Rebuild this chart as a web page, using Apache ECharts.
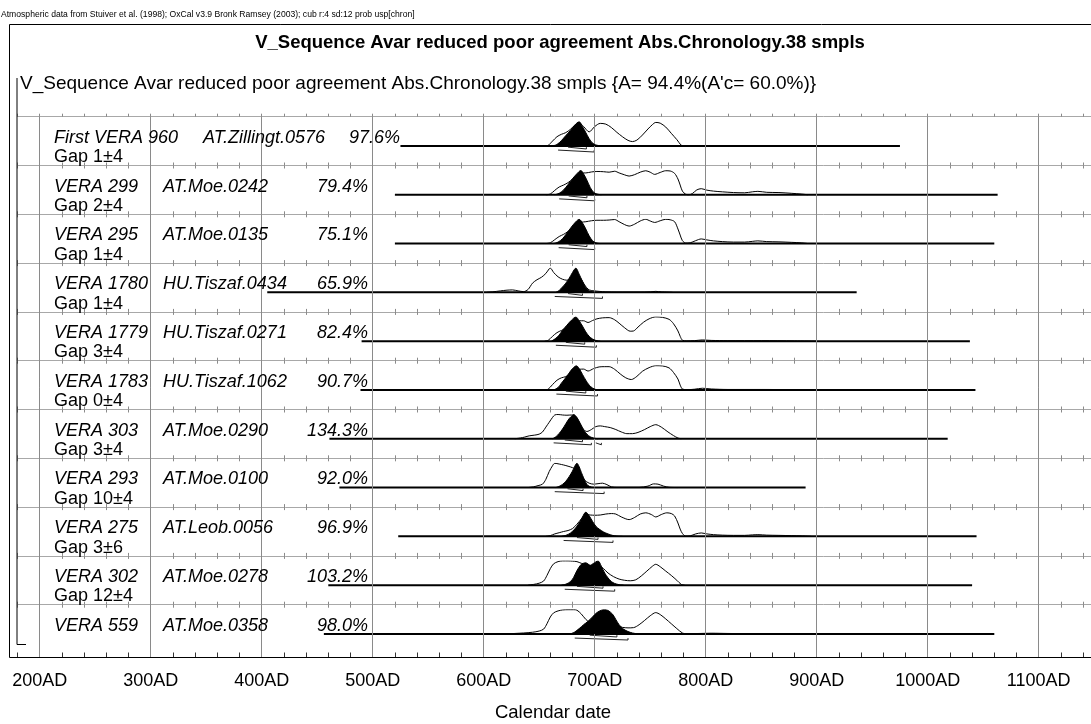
<!DOCTYPE html>
<html>
<head>
<meta charset="utf-8">
<script src="https://cdn.jsdelivr.net/npm/echarts@6/dist/echarts.min.js"></script>
<style>
  html, body { margin: 0; padding: 0; background: #fff; }
  #chart { width: 1091px; height: 724px; }
</style>
</head>
<body>
<div id="chart"></div>
<script>
// ---- Sample labels ----
const sampleNames = ['First VERA 960', 'VERA 299', 'VERA 295', 'VERA 1780', 'VERA 1779', 'VERA 1783',
  'VERA 303', 'VERA 293', 'VERA 275', 'VERA 302', 'VERA 559'];
const labCodes = ['AT.Zillingt.0576', 'AT.Moe.0242', 'AT.Moe.0135', 'HU.Tiszaf.0434', 'HU.Tiszaf.0271',
  'HU.Tiszaf.1062', 'AT.Moe.0290', 'AT.Moe.0100', 'AT.Leob.0056', 'AT.Moe.0278', 'AT.Moe.0358'];
const agreement = [97.6, 79.4, 75.1, 65.9, 82.4, 90.7, 134.3, 92.0, 96.9, 103.2, 98.0];
const gaps = ['Gap 1±4', 'Gap 2±4', 'Gap 1±4', 'Gap 1±4', 'Gap 3±4', 'Gap 0±4', 'Gap 3±4',
  'Gap 10±4', 'Gap 3±6', 'Gap 12±4', ''];

// ---- Calculation range of each distribution (calendar years AD) ----
const rangeStart = [525, 520, 520, 405, 490, 489, 461, 470, 523, 460, 456];
const rangeEnd   = [975, 1063, 1060, 936, 1038, 1043, 1018, 890, 1044, 1040, 1060];

// ---- Unmodelled likelihoods (outline), [year AD, relative probability] ----
const lik0 = [[655,0],[658,0.02],[662,0.2],[666,0.38],[670,0.48],[674,0.55],[678,0.68],[682,0.85],[686,0.95],[690,0.8],[695,0.58],[700,0.8],[705,0.93],[710,0.9],[715,0.76],[720,0.56],[725,0.38],[730,0.23],[734,0.18],[738,0.24],[743,0.45],[748,0.7],[752,0.88],[755,0.97],[759,0.94],[764,0.78],[769,0.52],[774,0.26],[778,0.03],[781,0]];
const lik1 = [[656,0],[660,0.03],[664,0.18],[668,0.32],[672,0.4],[676,0.5],[680,0.65],[684,0.82],[688,0.9],[692,0.9],[697,0.94],[702,0.96],[708,0.95],[713,0.93],[718,0.97],[722,0.9],[727,0.82],[731,0.77],[736,0.83],[741,0.93],[746,0.99],[750,0.93],[754,0.84],[759,0.92],[764,0.99],[768,0.98],[772,0.88],[775,0.65],[777,0.4],[779,0.15],[782,0.02],[785,0],[788,0.05],[792,0.2],[796,0.25],[801,0.19],[807,0.15],[815,0.12],[825,0.09],[835,0.08],[842,0.12],[847,0.14],[855,0.1],[866,0.09],[877,0.06],[886,0.03],[892,0]];
const lik2 = [[656,0],[660,0.03],[664,0.16],[668,0.29],[672,0.38],[676,0.5],[680,0.66],[684,0.82],[688,0.88],[692,0.9],[697,0.94],[702,0.96],[708,0.96],[713,0.97],[718,0.99],[722,0.9],[727,0.78],[731,0.72],[736,0.8],[741,0.93],[746,1.0],[750,0.93],[754,0.87],[759,0.94],[764,1.0],[768,0.98],[772,0.9],[775,0.6],[777,0.35],[779,0.12],[782,0.02],[786,0.03],[791,0.12],[796,0.19],[801,0.15],[807,0.11],[815,0.08],[825,0.06],[835,0.06],[842,0.09],[847,0.11],[855,0.08],[866,0.07],[877,0.05],[886,0.03],[892,0]];
const lik3 = [[603,0],[608,0.02],[615,0.06],[621,0.09],[626,0.1],[631,0.06],[636,0.03],[640,0.12],[644,0.38],[648,0.52],[652,0.62],[656,0.78],[659,0.97],[660,1.0],[663,0.82],[667,0.64],[671,0.54],[675,0.5],[679,0.6],[683,0.7],[687,0.6],[691,0.3],[695,0.1],[700,0.06],[704,0.04],[710,0.02],[720,0.01],[740,0.01],[750,0.02],[755,0.04],[760,0.02],[770,0]];
const lik4 = [[655,0],[658,0.03],[662,0.2],[666,0.35],[670,0.44],[674,0.52],[678,0.65],[682,0.78],[686,0.84],[690,0.84],[694,0.77],[698,0.85],[702,0.92],[707,0.96],[713,0.97],[718,0.88],[722,0.74],[727,0.55],[732,0.41],[735,0.42],[739,0.58],[744,0.78],[749,0.92],[755,1.0],[761,0.98],[767,0.9],[771,0.72],[775,0.42],[777,0.2],[779,0.04],[783,0.01],[790,0.02],[797,0.05],[805,0.03],[820,0.02],[850,0.02],[880,0.01],[900,0]];
const lik5 = [[655,0],[658,0.03],[662,0.22],[666,0.4],[670,0.5],[674,0.55],[678,0.66],[682,0.8],[686,0.85],[690,0.86],[694,0.78],[699,0.88],[704,0.95],[709,0.96],[713,0.96],[718,0.85],[723,0.66],[728,0.5],[733,0.43],[738,0.56],[743,0.77],[749,0.92],[755,1.0],[761,0.99],[767,0.91],[771,0.72],[775,0.45],[777,0.2],[779,0.04],[783,0.01],[790,0.03],[797,0.07],[805,0.04],[820,0.02],[850,0.02],[880,0.01],[900,0]];
const lik6 = [[628,0],[633,0.03],[637,0.07],[641,0.12],[646,0.15],[650,0.19],[653,0.28],[656,0.48],[659,0.68],[662,0.88],[664,0.98],[667,1.0],[671,0.98],[675,0.97],[679,0.98],[682,0.95],[686,0.7],[690,0.38],[693,0.3],[697,0.38],[701,0.5],[705,0.53],[709,0.5],[714,0.46],[719,0.38],[724,0.28],[729,0.21],[734,0.21],[739,0.26],[745,0.38],[750,0.5],[755,0.58],[760,0.48],[766,0.28],[771,0.13],[775,0.03],[778,0]];
const lik7 = [[640,0],[645,0.03],[649,0.08],[653,0.14],[656,0.34],[659,0.66],[662,0.9],[664,1.0],[668,0.97],[672,0.93],[676,0.88],[680,0.82],[683,0.75],[687,0.55],[691,0.3],[695,0.18],[699,0.14],[703,0.16],[707,0.18],[711,0.12],[715,0.03],[720,0.01],[740,0.01],[748,0.06],[753,0.15],[757,0.14],[762,0.06],[767,0.01],[775,0]];
const lik8 = [[656,0],[660,0.03],[664,0.1],[668,0.15],[672,0.2],[676,0.24],[680,0.32],[684,0.5],[688,0.72],[692,0.9],[696,0.88],[700,0.87],[705,0.88],[710,0.92],[715,0.94],[719,0.92],[724,0.8],[731,0.69],[736,0.78],[741,0.92],[746,0.97],[751,0.9],[755,0.8],[760,0.9],[765,0.97],[769,0.94],[772,0.84],[775,0.55],[777,0.3],[779,0.12],[782,0.01],[786,0.02],[791,0.1],[796,0.14],[801,0.1],[807,0.07],[815,0.05],[825,0.04],[835,0.04],[842,0.06],[847,0.07],[855,0.05],[866,0.04],[877,0.03],[886,0.02],[895,0]];
const lik9 = [[640,0],[645,0.03],[650,0.08],[654,0.17],[657,0.4],[660,0.68],[663,0.88],[667,0.97],[671,1.0],[676,1.0],[680,0.99],[684,0.97],[688,0.9],[692,0.85],[696,0.8],[700,0.82],[704,0.8],[708,0.68],[712,0.5],[717,0.35],[722,0.25],[727,0.2],[732,0.18],[737,0.22],[742,0.38],[747,0.58],[752,0.78],[755,0.86],[759,0.76],[764,0.58],[769,0.4],[774,0.2],[778,0.03],[781,0]];
const lik10 = [[620,0],[628,0.02],[636,0.04],[644,0.07],[650,0.12],[654,0.2],[657,0.42],[660,0.7],[663,0.87],[667,0.95],[671,0.99],[676,1.0],[681,1.0],[684,0.98],[688,0.82],[692,0.6],[695,0.5],[700,0.45],[705,0.42],[710,0.4],[715,0.37],[720,0.32],[725,0.27],[730,0.25],[735,0.26],[740,0.38],[745,0.56],[750,0.75],[755,0.88],[759,0.8],[764,0.62],[769,0.42],[774,0.22],[779,0.04],[782,0.01],[795,0.02],[805,0.03],[820,0.02],[840,0.01],[860,0]];

// ---- Modelled posteriors (filled) ----
const post0 = [[662,0],[666,0.06],[670,0.22],[674,0.43],[678,0.63],[682,0.86],[686,1.0],[689,0.8],[692,0.55],[695,0.3],[698,0.12],[701,0.04],[705,0.01],[710,0]];
const post1 = [[664,0],[668,0.06],[672,0.2],[676,0.42],[680,0.66],[684,0.87],[687.5,1.0],[690,0.86],[693,0.6],[696,0.3],[699,0.1],[702,0.03],[706,0]];
const post2 = [[663,0],[667,0.06],[671,0.2],[675,0.43],[679,0.68],[683,0.9],[686,1.0],[689,0.85],[692,0.6],[695,0.32],[698,0.12],[701,0.03],[705,0]];
const post3 = [[665,0],[668,0.08],[671,0.22],[674,0.38],[677,0.58],[680,0.82],[683,1.0],[686,0.75],[689,0.45],[692,0.2],[695,0.06],[698,0.02],[702,0]];
const post4 = [[661,0],[665,0.12],[668,0.25],[671,0.45],[675,0.66],[679,0.86],[683,1.0],[686,0.84],[689,0.62],[692,0.38],[695,0.2],[698,0.09],[701,0.03],[705,0]];
const post5 = [[663,0],[667,0.1],[670,0.28],[673,0.45],[677,0.7],[680,0.88],[683.5,1.0],[686,0.88],[689,0.64],[692,0.4],[695,0.2],[698,0.08],[701,0.02],[705,0]];
const post6 = [[662,0],[665,0.08],[668,0.22],[671,0.4],[674,0.62],[677,0.83],[680,0.97],[681,1.0],[684,0.88],[687,0.62],[690,0.36],[693,0.19],[696,0.08],[699,0.03],[703,0]];
const post7 = [[665,0],[668,0.05],[671,0.13],[674,0.26],[677,0.45],[680,0.68],[682,0.88],[684,1.0],[686,0.86],[688,0.62],[690,0.4],[692,0.2],[694,0.08],[697,0.02],[700,0]];
const post8 = [[670,0],[674,0.04],[678,0.13],[682,0.3],[686,0.55],[689,0.8],[692,1.0],[695,0.85],[698,0.62],[701,0.42],[704,0.3],[708,0.18],[712,0.1],[716,0.04],[720,0.01],[725,0]];
const post9 = [[670,0],[674,0.04],[678,0.14],[681,0.32],[684,0.6],[688,0.86],[692,0.92],[696,0.82],[699,0.9],[703,1.0],[706,0.78],[709,0.5],[712,0.3],[715,0.15],[718,0.07],[722,0.02],[726,0]];
const post10 = [[678,0],[682,0.08],[686,0.22],[690,0.38],[694,0.52],[698,0.7],[702,0.88],[706,0.98],[709,1.0],[712,0.97],[716,0.82],[719,0.6],[722,0.38],[726,0.2],[730,0.1],[734,0.04],[738,0.01],[742,0]];

const likelihoods = [lik0, lik1, lik2, lik3, lik4, lik5, lik6, lik7, lik8, lik9, lik10];
const posteriors = [post0, post1, post2, post3, post4, post5, post6, post7, post8, post9, post10];

// ---- Highest posterior density ranges (68.2% upper bracket, 95.4% lower bracket) ----
const hpd68 = [[[676,692.5]], [[676.5,693]], [[676.5,693]], [[676,689]], [[674,691]], [[674,692]],
  [[673,689]], [[675.5,689.5]], [[684,703]], [[684,707.5]], [[695.5,720]]];
const hpd95 = [[[667,699.5]], [[668,700]], [[667.5,700]], [[664,707]], [[665,701.5]], [[665.5,702.5]],
  [[663,697],[701,706]], [[664,708.5]], [[672,716.5]], [[673,718]], [[682,730]]];

// ---- Axis ----
const yearMin = 180, yearMax = 1160, minorStep = 20;
const centuryLines = [200, 300, 400, 500, 600, 700, 800, 900, 1000, 1100];

// ---- Layout ----
const FONT = '"Liberation Sans", Arial, sans-serif';
const PX_PER_YEAR = 1.11;
const plotLeft = 17.5;
const plotWidth = (yearMax - yearMin) * PX_PER_YEAR;
const rowTop0 = 116.7, rowPitch = 48.8, axisY = 657.5;
const nRows = sampleNames.length;

const grids = [{ left: plotLeft, width: plotWidth, top: rowTop0, height: axisY - rowTop0, outerBoundsMode: 'none' }];
const xAxes = [{
  gridIndex: 0, type: 'value', min: yearMin, max: yearMax, interval: minorStep, position: 'bottom',
  axisLine: { onZero: false, lineStyle: { color: '#000', width: 1.2 } },
  axisTick: { inside: true, length: 5, lineStyle: { color: '#333' } },
  axisLabel: { margin: 15, fontSize: 18, fontFamily: FONT, color: '#000',
    formatter: v => (v % 100 === 0 && v >= 200 && v <= 1100) ? v + 'AD' : '' },
  splitLine: { show: false }
}];
const yAxes = [{ gridIndex: 0, type: 'value', min: 0, max: 11, show: false }];
const series = [{
  type: 'line', xAxisIndex: 0, yAxisIndex: 0, data: [], silent: true,
  markLine: {
    silent: true, symbol: 'none', animation: false,
    label: { show: false },
    lineStyle: { color: '#8a8a8a', type: 'solid', width: 1 },
    data: centuryLines.map(v => ({ xAxis: v }))
  }
}];
const graphics = [];

for (let k = 0; k < nRows; k++) {
  const top = rowTop0 + k * rowPitch;
  const g = k + 1;
  grids.push({ left: plotLeft, width: plotWidth, top: top + 5, height: 40, outerBoundsMode: 'none' });
  // row separator with crossing minor ticks
  xAxes.push({
    gridIndex: g, type: 'value', min: yearMin, max: yearMax, interval: minorStep, position: 'top', offset: 5,
    axisLine: { show: true, onZero: false, lineStyle: { color: '#a8a8a8', width: 1 } },
    axisTick: { show: true, inside: false, length: 3, lineStyle: { color: '#8a8a8a' } },
    axisLabel: { show: false }, splitLine: { show: false }
  });
  xAxes.push({
    gridIndex: g, type: 'value', min: yearMin, max: yearMax, interval: minorStep, position: 'bottom',
    offset: rowPitch - 45, show: k < nRows - 1,
    axisLine: { show: false, onZero: false },
    axisTick: { show: true, inside: false, length: 3, lineStyle: { color: '#8a8a8a' } },
    axisLabel: { show: false }, splitLine: { show: false }
  });
  yAxes.push({ gridIndex: g, type: 'value', min: -0.65, max: 1.0, show: false });
  const xi = 2 * k + 1, yi = k + 1;

  series.push({
    type: 'line', xAxisIndex: xi, yAxisIndex: yi, symbol: 'none', silent: true, z: 3,
    data: [[rangeStart[k], 0], [rangeEnd[k], 0]],
    lineStyle: { color: '#000', width: 2 }
  });
  series.push({
    type: 'line', xAxisIndex: xi, yAxisIndex: yi, symbol: 'none', silent: true, z: 4,
    smooth: 0.3, data: likelihoods[k],
    lineStyle: { color: '#000', width: 1 }
  });
  series.push({
    type: 'line', xAxisIndex: xi, yAxisIndex: yi, symbol: 'none', silent: true, z: 5,
    smooth: 0.3, data: posteriors[k],
    lineStyle: { color: '#000', width: 1 },
    areaStyle: { color: '#000', opacity: 1 }
  });
  hpd68[k].forEach(r => series.push({
    type: 'line', xAxisIndex: xi, yAxisIndex: yi, symbol: 'none', silent: true, z: 4,
    data: [[r[0], -0.05], [r[0], -0.125], [r[1], -0.125], [r[1], -0.05]],
    lineStyle: { color: '#222', width: 1 }
  }));
  hpd95[k].forEach(r => series.push({
    type: 'line', xAxisIndex: xi, yAxisIndex: yi, symbol: 'none', silent: true, z: 4,
    data: [[r[0], -0.17], [r[0], -0.25], [r[1], -0.25], [r[1], -0.17]],
    lineStyle: { color: '#222', width: 1 }
  }));

  // row labels
  const longName = sampleNames[k].length > 10;
  const italic = 'italic 18px ' + FONT;
  graphics.push({ type: 'text', z: 10, style: { x: 54, y: top + 21, text: sampleNames[k], font: italic, fill: '#000', textVerticalAlign: 'middle' } });
  graphics.push({ type: 'text', z: 10, style: { x: longName ? 203 : 163, y: top + 21, text: labCodes[k], font: italic, fill: '#000', textVerticalAlign: 'middle' } });
  graphics.push({ type: 'text', z: 10, style: { x: longName ? 400 : 368, y: top + 21, text: agreement[k].toFixed(1) + '%', font: italic, fill: '#000', textAlign: 'right', textVerticalAlign: 'middle' } });
  if (gaps[k]) {
    graphics.push({ type: 'text', z: 10, style: { x: 54, y: top + 40.5, text: gaps[k], font: '18px ' + FONT, fill: '#000', textVerticalAlign: 'middle' } });
  }
}

// frame, sequence bracket and headings
graphics.push({ type: 'rect', z: 20, shape: { x: 9.5, y: 24.5, width: 1100, height: axisY - 24.5 }, style: { fill: 'none', stroke: '#000', lineWidth: 1 } });
graphics.push({ type: 'polyline', z: 20, shape: { points: [[17, 78], [17, 644.5], [26, 644.5]] }, style: { fill: 'none', stroke: '#000', lineWidth: 1 } });
graphics.push({ type: 'text', z: 10, style: { x: 1, y: 15, text: 'Atmospheric data from Stuiver et al. (1998); OxCal v3.9 Bronk Ramsey (2003); cub r:4 sd:12 prob usp[chron]', font: '8.6px ' + FONT, fill: '#000', textVerticalAlign: 'middle' } });
graphics.push({ type: 'text', z: 10, style: { x: 560, y: 43, text: 'V_Sequence Avar reduced poor agreement Abs.Chronology.38 smpls', font: 'bold 18.5px ' + FONT, fill: '#000', textAlign: 'center', textVerticalAlign: 'middle' } });
graphics.push({ type: 'text', z: 10, style: { x: 20, y: 83.5, text: "V_Sequence Avar reduced poor agreement Abs.Chronology.38 smpls {A= 94.4%(A'c= 60.0%)}", font: '19px ' + FONT, fill: '#000', textVerticalAlign: 'middle' } });
graphics.push({ type: 'text', z: 10, style: { x: 553, y: 713, text: 'Calendar date', font: '18.5px ' + FONT, fill: '#000', textAlign: 'center', textVerticalAlign: 'middle' } });

const chart = echarts.init(document.getElementById('chart'), null, { renderer: 'canvas' });
chart.setOption({
  animation: false,
  backgroundColor: '#fff',
  grid: grids,
  xAxis: xAxes,
  yAxis: yAxes,
  series: series,
  graphic: graphics
});
</script>
</body>
</html>
